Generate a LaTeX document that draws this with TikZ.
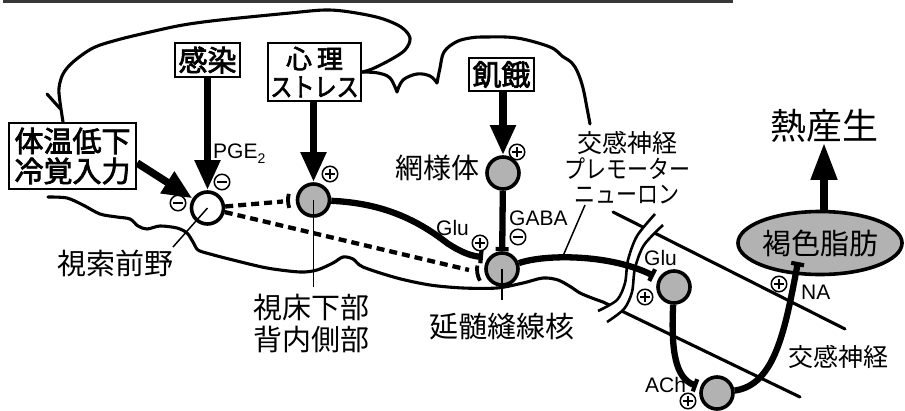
\documentclass[tikz,border=0pt]{standalone}
\usepackage{fontspec}
\usepackage{graphicx}
\setmainfont{Liberation Sans}
\newfontfamily\jp{Noto Sans CJK JP}[AutoFakeBold=2.5]
\usetikzlibrary{arrows.meta,shapes.geometric}

\definecolor{cellgray}{gray}{0.70}
\definecolor{rulegray}{gray}{0.22}

\tikzset{
  brainline/.style={line width=3.1pt, line cap=round, line join=round},
  leader/.style={line width=1.5pt},
  inbox/.style={draw, line width=2.2pt, fill=white, inner sep=0pt, align=center},
  cell/.style={circle, draw, line width=3.6pt, fill=cellgray, minimum size=32pt, inner sep=0pt},
  hollowcell/.style={cell, fill=white},
  bigarrow/.style={line width=7.5pt, -{Triangle[length=30pt,width=24pt]}},
  axon/.style={line width=6.3pt, -{Bar[width=13pt,line width=4.2pt]}},
  dashaxon/.style={line width=4.3pt, dash pattern=on 8pt off 5pt},
  crescent/.style={line width=3.8pt},
  sgn/.style={circle, draw, line width=1.5pt, minimum size=15.5pt, inner sep=0pt},
  sgnminus/.style={sgn, path picture={\draw[line width=1.6pt]
      ([xshift=-5pt]path picture bounding box.center) -- ([xshift=5pt]path picture bounding box.center);}},
  sgnplus/.style={sgn, path picture={\draw[line width=1.6pt]
      ([xshift=-5pt]path picture bounding box.center) -- ([xshift=5pt]path picture bounding box.center)
      ([yshift=-5pt]path picture bounding box.center) -- ([yshift=5pt]path picture bounding box.center);}},
  jplabel/.style={inner sep=0pt, align=center},
  latintag/.style={inner sep=0pt, font=\fontsize{21}{21}\selectfont},
}

\begin{document}
\begin{tikzpicture}[x=1pt,y=-1pt]
\useasboundingbox (0,0) rectangle (905,410);

% rule along the top edge
\coordinate (ruleL) at (3,1.3);
\coordinate (ruleR) at (733,1.3);
\draw[line width=2.8pt, rulegray] (ruleL) -- (ruleR);

% input boxes
\node[inbox, minimum width=127pt, minimum height=66pt, font=\jp\bfseries\fontsize{29}{30}\selectfont]
  (cold) at (72.5,156) {体温低下\\冷覚入力};
\node[inbox, minimum width=65pt, minimum height=34pt, font=\jp\bfseries\fontsize{29}{30}\selectfont]
  (infect) at (207.5,60) {感染};
\node[inbox, minimum width=93pt, minimum height=58pt, font=\jp\bfseries\fontsize{26}{28}\selectfont]
  (stress) at (314.5,72) {心\hspace{5pt}理\\\scalebox{0.85}[1]{ストレス}};
\node[inbox, minimum width=65pt, minimum height=33pt, font=\jp\bfseries\fontsize{29}{30}\selectfont]
  (hunger) at (501.5,74.5) {飢餓};

% brain outline: loop back to the cold-input box
\draw[brainline] plot[smooth, tension=0.55] coordinates {(stress.east) (372,69) (390,60) (405,50)
  (410,38) (401,27) (380,18) (350,12) (325,10) (290,13) (220,20) (183,25) (150,32) (117,40)
  (93,48) (73,62) (63,74) (59,88) (60,102) ([xshift=-9.5pt]cold.north)};
\coordinate (barbA) at (47,94);
\coordinate (barbB) at (60.5,109);
\draw[brainline] (barbA) -- (barbB);

% brain outline: upper contour
\draw[brainline] plot[smooth, tension=0.6] coordinates {(stress.east) (378,73) (390,78) (397,92)};
\draw[brainline] plot[smooth, tension=0.6] coordinates {(397,92) (403,80) (417,74) (430,76) (437,83)};
\draw[brainline] plot[smooth, tension=0.6] coordinates {(437,83) (440,68) (444,52) (456,42) (470,38)
  (485,37) (517,38) (550,47) (562,56) (572,63) (578,73) (583,88) (587,108) (590,124)};

% brain outline: lower contour, running on into the spinal cord
\draw[brainline] plot[smooth, tension=0.5] coordinates {(48,197) (67,198) (83,205) (100,214) (117,217)
  (130,219) (138,226) (147,229) (160,226) (177,228) (187,233) (193,242) (198,250) (210,254)
  (233,260) (267,268) (300,272) (317,270) (333,263) (343,257) (353,259) (363,267) (397,278)
  (430,285) (463,288) (497,288) (523,283) (543,278) (558,280) (571,287) (580,293) (592,298)
  (603,302)} -- (800,397);
\draw[brainline] (613,212) -- (845,329);

% cut marks across the cord
\fill[white] plot[smooth] coordinates {(598,311) (617,300) (625,283) (628,260) (637,236) (655,214)}
  -- plot[smooth] coordinates {(663,225) (644,245) (635,268) (632,292) (624,309) (607,322)} -- cycle;
\draw[line width=2.6pt] plot[smooth] coordinates {(598,311) (617,300) (625,283) (628,260) (637,236) (655,214)};
\draw[line width=2.6pt] plot[smooth] coordinates {(607,322) (624,309) (632,292) (635,268) (644,245) (663,225)};

% cell bodies
\node[hollowcell] (poa) at (207.5,208) {};
\node[cell] (dmh) at (313.5,200) {};
\node[cell] (ret) at (503,173) {};
\node[cell] (rpa) at (502,269) {};
\node[cell] (iml) at (674,287) {};
\node[cell] (gang) at (717,393) {};
\node[ellipse, draw, line width=3.6pt, fill=cellgray, minimum width=163pt, minimum height=63pt,
  inner sep=0pt, font=\jp\fontsize{29}{29}\selectfont] (bat) at (820,243) {褐色脂肪};

% heat output
\node[jplabel, font=\jp\fontsize{36}{36}\selectfont] (heat) at (824,126) {熱産生};
\draw[line width=7.5pt, -{Triangle[length=37pt,width=25pt]}] (bat.north -| heat.south) -- (heat.south);

% inputs
\draw[bigarrow] ([yshift=-7pt]cold.east) -- (poa);
\draw[bigarrow] (infect.south) -- (infect.south |- poa.north);
\draw[bigarrow] (stress.south -| dmh) -- (dmh.north);
\draw[bigarrow] (hunger.south -| ret) -- (ret.north);

% inhibitory projections from the preoptic area
\coordinate (dEndD) at (283,201.5);
\coordinate (dEndR) at (469,270);
\draw[dashaxon] (poa) -- (dEndD);
\draw[dashaxon] (poa) -- (dEndR);
\draw[crescent] ([shift={(166:25.5pt)}]dmh.center) arc[start angle=166, end angle=198, radius=25.5pt];
\draw[crescent] ([shift={(172:25pt)}]rpa.center) arc[start angle=172, end angle=208, radius=25pt];

% excitatory pathway
\coordinate (tGluR) at (483,257);
\coordinate (tGluI) at (654,276);
\coordinate (tACh) at (697,386);
\coordinate (tNA) at (798,262);
\draw[axon] (dmh) .. controls (380,203) and (415,218) .. (447,243) .. controls (462,253) and (472,256) .. (tGluR);
\draw[axon] (ret) -- (rpa);
\draw[axon] (rpa) .. controls (545,254) and (610,254) .. (tGluI);
\draw[axon] (iml) .. controls (671,350) and (675,378) .. (tACh);
\draw[axon] (gang) .. controls (775,385) and (785,330) .. (tNA);

% region labels and their leaders
\node[jplabel, font=\jp\fontsize{29}{29}\selectfont] (lpoa) at (115,263) {視索前野};
\node[jplabel, font=\jp\fontsize{29}{32}\selectfont] (ldmh) at (311,324) {視床下部\\背内側部};
\node[jplabel, font=\jp\fontsize{29}{29}\selectfont] (lrpa) at (502,327) {延髄縫線核};
\node[jplabel, font=\jp\fontsize{28}{28}\selectfont] (lret) at (437,168) {網様体};
\node[jplabel, font=\jp\fontsize{25}{25.5}\selectfont] (lpre) at (627,168)
  {交感神経\\\scalebox{0.84}[1]{プレモーター}\\\scalebox{0.84}[1]{ニューロン}};
\node[jplabel, font=\jp\fontsize{25}{25}\selectfont] (lsym) at (838,357) {交感神経};

\coordinate (poaEnd) at (173,247);
\coordinate (dmhEnd) at (313.5,287);
\coordinate (rpaEnd) at (502,300);
\coordinate (preTop) at (585,205);
\coordinate (preBot) at (563,256);
\draw[leader] (poa.center) -- (poaEnd);
\draw[leader] (dmh.center) -- (dmhEnd);
\draw[leader] (rpa.center) -- (rpaEnd);
\draw[leader] (preTop) -- (preBot);

% transmitter tags
\node[latintag, anchor=base west] (pge) at (213,158) {PGE\raisebox{-5pt}{\fontsize{14}{14}\selectfont 2}};
\node[latintag, anchor=base west] (glu1) at (436,235) {Glu};
\node[latintag, anchor=base west] (gaba) at (509,225) {GABA};
\node[latintag, anchor=base west] (glu2) at (644,265) {Glu};
\node[latintag, anchor=base west] (ach) at (645,392) {ACh};
\node[latintag, anchor=base west] (na) at (801,299) {NA};

% signs of action
\node[sgnminus] (s1) at (178,203) {};
\node[sgnminus] (s2) at (222,182) {};
\node[sgnplus]  (s3) at (330,174) {};
\node[sgnplus]  (s4) at (517,152) {};
\node[sgnplus]  (s5) at (480,243) {};
\node[sgnminus] (s6) at (518,237) {};
\node[sgnplus]  (s7) at (645,297) {};
\node[sgnplus]  (s8) at (688,401) {};
\node[sgnplus]  (s9) at (779,284) {};
\end{tikzpicture}
\end{document}
